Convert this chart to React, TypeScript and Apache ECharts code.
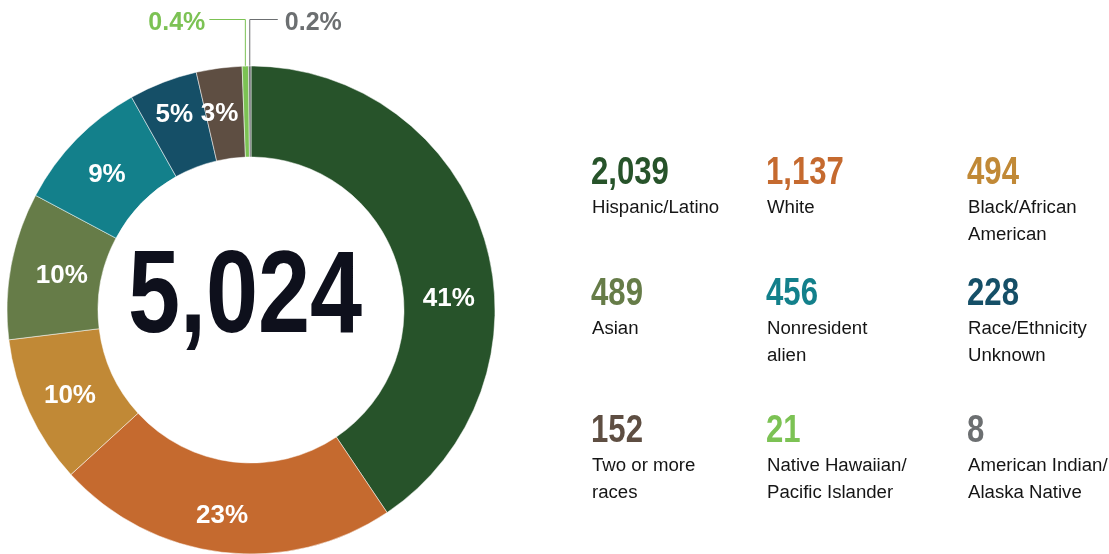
import React, { useEffect, useRef } from "react";
import * as echarts from "echarts";

const categories = [
  "Hispanic/Latino",
  "White",
  "Black/African\nAmerican",
  "Asian",
  "Nonresident\nalien",
  "Race/Ethnicity\nUnknown",
  "Two or more\nraces",
  "Native Hawaiian/\nPacific Islander",
  "American Indian/\nAlaska Native",
];
const values = [2039, 1137, 494, 489, 456, 228, 152, 21, 8];
const colors = [
  "#27532a",
  "#c56a2f",
  "#c18936",
  "#667c48",
  "#13808b",
  "#154f67",
  "#5e4e42",
  "#7cc254",
  "#6c6f71",
];

const FONT = "'Liberation Sans', Arial, sans-serif";
const NARROW = 0.82;

export default function App() {
  const ref = useRef<HTMLDivElement>(null);
  useEffect(() => {
    document.body.style.margin = "0";
    const chart = echarts.init(ref.current!, null, { renderer: "svg" });
    const total = values.reduce((a, b) => a + b, 0);
    const pct = (v: number) => {
      const p = (v / total) * 100;
      return p < 1 ? p.toFixed(1) + "%" : Math.round(p) + "%";
    };
    const data = values.map((v, i) => {
      const small = v / total < 0.01;
      return {
        name: categories[i],
        value: v,
        itemStyle: { color: colors[i] },
        label: small
          ? {
              position: "outside",
              color: colors[i],
              fontSize: 25,
              fontWeight: "bold",
              fontFamily: FONT,
            }
          : { position: "inside" },
        labelLine: small
          ? { show: true, lineStyle: { color: colors[i], width: 1 } }
          : { show: false },
      };
    });

    const colX = [591, 766, 967];
    const rowNumY = [171, 292, 429];
    const graphics: any[] = [
      {
        type: "text",
        x: 245,
        y: 291,
        scaleX: 0.8,
        style: {
          text: total.toLocaleString("en-US"),
          fill: "#0e101c",
          font: `bold 117px ${FONT}`,
          align: "center",
          verticalAlign: "middle",
        },
      },
    ];
    values.forEach((v, i) => {
      const c = i % 3;
      const r = Math.floor(i / 3);
      graphics.push({
        type: "text",
        x: colX[c],
        y: rowNumY[r],
        scaleX: NARROW,
        style: {
          text: v.toLocaleString("en-US"),
          fill: colors[i],
          font: `bold 38px ${FONT}`,
          align: "left",
          verticalAlign: "middle",
        },
      });
      graphics.push({
        type: "text",
        x: colX[c] + 1,
        y: rowNumY[r] + 35 - 13.5,
        scaleX: 0.98,
        style: {
          text: categories[i],
          fill: "#151515",
          font: `19px ${FONT}`,
          lineHeight: 27,
          align: "left",
          verticalAlign: "top",
        },
      });
    });

    const nudges: Record<number, [number, number]> = {
      0: [5, 46],
      1: [-5, 4],
      2: [2, 0],
      3: [9, 1],
      4: [0, 4],
      5: [-4, -9],
      6: [-5, 2],
    };

    chart.setOption({
      animation: false,
      graphic: graphics,
      series: [
        {
          type: "pie",
          center: [251, 310],
          radius: [153, 244],
          startAngle: 90,
          clockwise: true,
          avoidLabelOverlap: false,
          itemStyle: { borderColor: "#ffffff", borderWidth: 0.5 },
          label: {
            show: true,
            color: "#ffffff",
            fontSize: 26,
            fontWeight: "bold",
            fontFamily: FONT,
            formatter: (p: any) => pct(p.value),
          },
          labelLayout: (params: any) => {
            const i = params.dataIndex;
            const pts = params.labelLinePoints;
            if (values[i] / total < 0.01 && pts) {
              const p0 = pts[0];
              const left = i === 7;
              const endX = left ? p0[0] - 36 : p0[0] + 28;
              return {
                x: left ? endX - 4 : endX + 7,
                y: 21,
                align: left ? "right" : "left",
                verticalAlign: "middle",
                labelLinePoints: [
                  [p0[0], p0[1]],
                  [p0[0], 19.5],
                  [endX, 19.5],
                ],
              };
            }
            const n = nudges[i];
            return n ? { dx: n[0], dy: n[1] } : {};
          },
          emphasis: { disabled: true },
          data,
        },
      ],
    });
    return () => chart.dispose();
  }, []);
  return (
    <div
      ref={ref}
      style={{ position: "fixed", left: 0, top: 0, width: 1109, height: 554 }}
    />
  );
}
